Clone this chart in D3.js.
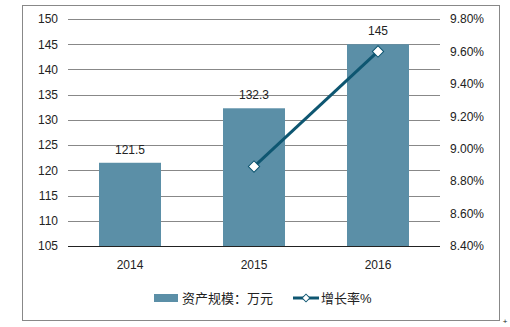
<!DOCTYPE html>
<html>
<head>
<meta charset="utf-8">
<script src="https://cdn.jsdelivr.net/npm/d3@7"></script>
<style>
  body { margin: 0; background: #fff; }
  text { font-family: "Liberation Sans", Arial, "Noto Sans CJK SC", sans-serif; fill: #222; }
</style>
</head>
<body>
<svg id="chart" width="510" height="327"></svg>
<script>
var years = ["2014", "2015", "2016"];
var assets = [121.5, 132.3, 145];
var growth = [null, 8.89, 9.60];
var leftTicks = [105, 110, 115, 120, 125, 130, 135, 140, 145, 150];
var rightTicks = [8.4, 8.6, 8.8, 9.0, 9.2, 9.4, 9.6, 9.8];

var svg = d3.select("#chart");
var margin = {top: 19, left: 68, right: 70, bottom: 81};
var width = 510 - margin.left - margin.right,
    height = 327 - margin.top - margin.bottom;

// outer frame
svg.append("rect")
  .attr("x", 22.5).attr("y", 5.5)
  .attr("width", 477).attr("height", 315)
  .attr("fill", "none").attr("stroke", "#888");

var g = svg.append("g")
  .attr("transform", "translate(" + margin.left + "," + margin.top + ")");

var x = d3.scaleBand().domain(years).range([0, width]).paddingInner(0.5).paddingOuter(0.25);
var y = d3.scaleLinear().domain([105, 150]).range([height, 0]);
var y2 = d3.scaleLinear().domain([8.4, 9.8]).range([height, 0]);

// grid lines
g.selectAll(".grid")
  .data(leftTicks.slice(1))
  .enter().append("line")
    .attr("x1", 0).attr("x2", width)
    .attr("y1", function(d){ return Math.round(y(d)) + 0.5; })
    .attr("y2", function(d){ return Math.round(y(d)) + 0.5; })
    .attr("stroke", "#888");

// left axis labels
var yAxis = g.append("g")
  .call(d3.axisLeft(y).tickValues(leftTicks).tickSize(0).tickPadding(10));
yAxis.select(".domain").remove();
yAxis.selectAll("text").style("font-size", "12px").attr("fill", "#222");

// right axis labels
var yAxis2 = g.append("g")
  .attr("transform", "translate(" + width + ",0)")
  .call(d3.axisRight(y2).tickValues(rightTicks).tickSize(0).tickPadding(10)
    .tickFormat(function(d){ return d.toFixed(2) + "%"; }));
yAxis2.select(".domain").remove();
yAxis2.selectAll("text").style("font-size", "12px").attr("fill", "#222");

// bars
g.selectAll(".bar")
  .data(assets)
  .enter().append("rect")
    .attr("x", function(d, i){ return x(years[i]); })
    .attr("y", function(d){ return y(d); })
    .attr("width", x.bandwidth())
    .attr("height", function(d){ return height - y(d); })
    .attr("fill", "#5B8FA7");

// bar labels
g.selectAll(".lbl")
  .data(assets)
  .enter().append("text")
    .attr("x", function(d, i){ return x(years[i]) + x.bandwidth() / 2; })
    .attr("y", function(d){ return y(d) - 9; })
    .attr("text-anchor", "middle")
    .style("font-size", "12px")
    .text(function(d){ return d; });

// baseline
g.append("line")
  .attr("x1", 0).attr("x2", width)
  .attr("y1", height + 0.5).attr("y2", height + 0.5)
  .attr("stroke", "#222");

// x axis labels
var xAxis = g.append("g")
  .attr("transform", "translate(0," + height + ")")
  .call(d3.axisBottom(x).tickSize(0).tickPadding(14));
xAxis.select(".domain").remove();
xAxis.selectAll("text").style("font-size", "12px").attr("fill", "#222");

// growth line
var pts = growth.map(function(d, i){ return [years[i], d]; }).filter(function(d){ return d[1] != null; });
var line = d3.line()
  .x(function(d){ return x(d[0]) + x.bandwidth() / 2; })
  .y(function(d){ return y2(d[1]); });
g.append("path")
  .datum(pts)
  .attr("d", line)
  .attr("fill", "none")
  .attr("stroke", "#0E5671")
  .attr("stroke-width", 3);

var marker = d3.symbol().type(d3.symbolSquare).size(64);
g.selectAll(".pt")
  .data(pts)
  .enter().append("path")
    .attr("d", marker)
    .attr("transform", function(d){ return "translate(" + (x(d[0]) + x.bandwidth() / 2) + "," + y2(d[1]) + ") rotate(45)"; })
    .attr("fill", "#fff")
    .attr("stroke", "#0E5671")
    .attr("stroke-width", 1);

// legend
var lg = svg.append("g").attr("transform", "translate(0,298)");
lg.append("rect").attr("x", 154).attr("y", -4).attr("width", 24).attr("height", 8).attr("fill", "#5B8FA7");
lg.append("text").attr("x", 182).attr("y", 5).style("font-size", "13px").text("资产规模：万元");
lg.append("line").attr("x1", 293).attr("x2", 319).attr("y1", 0).attr("y2", 0)
  .attr("stroke", "#0E5671").attr("stroke-width", 3);
lg.append("path").attr("d", d3.symbol().type(d3.symbolSquare).size(30)).attr("transform", "translate(306,0) rotate(45)")
  .attr("fill", "#fff").attr("stroke", "#0E5671");
lg.append("text").attr("x", 321).attr("y", 5).style("font-size", "13px").text("增长率%");

// corner mark
svg.append("text").attr("x", 505).attr("y", 324).attr("text-anchor", "middle")
  .style("font-size", "8px").attr("fill", "#999").text("+");
</script>
</body>
</html>
